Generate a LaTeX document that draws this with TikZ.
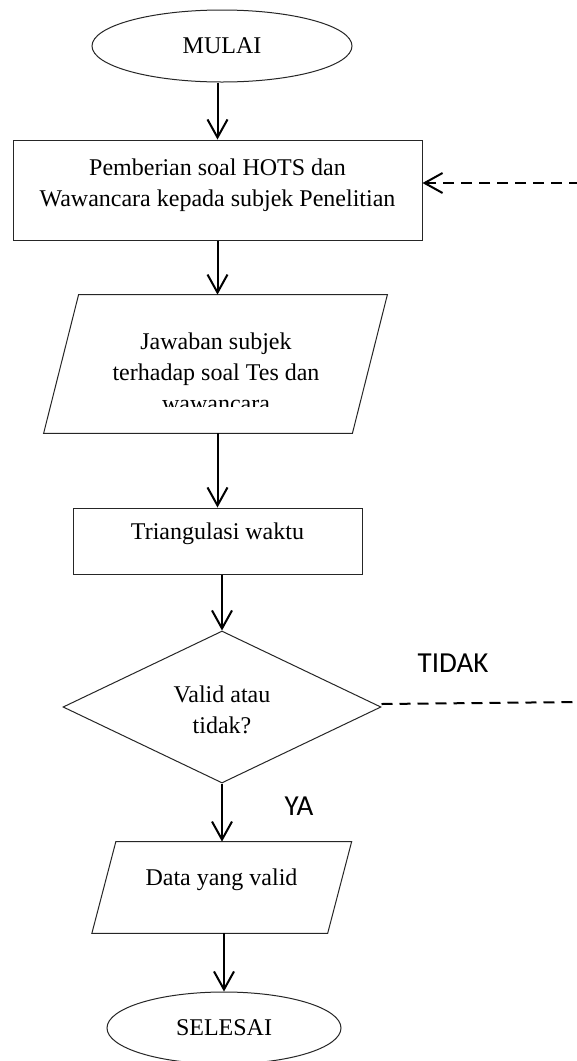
\documentclass[tikz,border=0pt]{standalone}
\usepackage{fontspec}
\setmainfont{Liberation Serif}
\newfontfamily\labelfont{Carlito}
\usetikzlibrary{shapes.geometric,arrows.meta,calc}
\begin{document}
\begin{tikzpicture}[x=0.5pt,y=-0.5pt,
  outline/.style={draw=black!85, line width=0.5pt},
  term/.style={outline, ellipse, inner sep=0pt, font=\fontsize{12}{15.5}\selectfont},
  boxnode/.style={outline, rectangle, inner sep=0pt},
  slantbox/.style={rectangle, inner sep=0pt},
  txt/.style={font=\fontsize{12}{15.5}\selectfont, align=center, inner sep=0pt},
  flow/.style={line width=1pt, -{Straight Barb[length=9pt,width=10pt]}},
  loopline/.style={line width=1pt, dash pattern=on 5.5pt off 3.5pt},
  tag/.style={font=\labelfont\fontsize{14.5}{17}\selectfont, inner sep=0pt}]
\useasboundingbox (0,0) rectangle (577,1061);
\fill[white] (0,0) rectangle (577,1061);

% start terminal
\node[term, minimum width=130pt, minimum height=36pt] (mulai) at (222,46) {MULAI};

% test and interview
\node[boxnode, minimum width=204.5pt, minimum height=50pt] (beri) at (217.5,190) {};
\node[txt] (beriT) at (217.5,185) {Pemberian soal HOTS dan\\Wawancara kepada subjek Penelitian};

% answers (input/output)
\node[slantbox, minimum width=154pt, minimum height=69pt] (jawab) at (215.5,364) {};
\draw[outline] ($(jawab.north west)+(17.5,0)$) -- ($(jawab.north east)+(17.5,0)$)
  -- ($(jawab.south east)+(-17.5,0)$) -- ($(jawab.south west)+(-17.5,0)$) -- cycle;
\begin{scope}
  \clip (40,290) rectangle (400,406);
  \node[txt] (jawabT) at (216,372) {Jawaban subjek\\terhadap soal Tes dan\\wawancara};
\end{scope}

% triangulation
\node[boxnode, minimum width=144.5pt, minimum height=33pt] (tri) at (217.5,541) {};
\node[txt] (triT) at (217.5,534) {Triangulasi waktu};

% decision
\node[outline, diamond, inner sep=0pt, minimum width=159pt, minimum height=76pt] (valid) at (222,707) {};
\node[txt] (validT) at (222,710) {Valid atau\\tidak?};

% valid data (input/output)
\node[slantbox, minimum width=117.5pt, minimum height=45.5pt] (data) at (221.75,887.5) {};
\draw[outline] ($(data.north west)+(12,0)$) -- ($(data.north east)+(12,0)$)
  -- ($(data.south east)+(-12,0)$) -- ($(data.south west)+(-12,0)$) -- cycle;
\node[txt] (dataT) at (221.5,880) {Data yang valid};

% end terminal
\node[term, minimum width=117pt, minimum height=36pt] (selesai) at (224,1028) {SELESAI};

% main flow
\draw[flow] (beri.north |- mulai.south) -- (beri.north);
\draw[flow] (beri.south) -- (beri.south |- jawab.north);
\draw[flow] (jawab.south -| tri.north) -- (tri.north);
\draw[flow] (tri.south -| valid.north) -- (valid.north);
\draw[flow] (valid.south) -- (valid.south |- data.north);
\draw[flow] (data.south -| selesai.north) -- (selesai.north);

% loop back when not valid
\coordinate (loopIn) at (580,183);
\coordinate (loopOut) at (580,702);
\draw[flow, loopline] (loopIn) -- (loopIn -| beri.east);
\draw[loopline] ($(valid.east)+(0,-3)$) -- (loopOut);

% branch labels
\node[tag] (tidak) at (453,663) {TIDAK};
\node[tag] (ya) at (299,806) {YA};
\end{tikzpicture}
\end{document}
